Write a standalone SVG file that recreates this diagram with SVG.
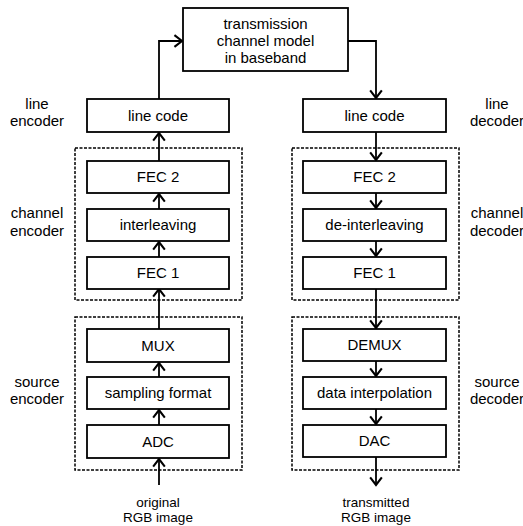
<svg xmlns="http://www.w3.org/2000/svg" width="523" height="526" viewBox="0 0 523 526">
<defs>
<style>
.box{fill:#fff;stroke:#000;stroke-width:1.8}
.grp{fill:none;stroke:#000;stroke-width:1.5;stroke-dasharray:3 1.5}
.t{font-family:"Liberation Sans",Arial,sans-serif;font-size:15px;fill:#000;text-anchor:middle}
.s{font-size:13.5px}
.c{fill:none;stroke:#000;stroke-width:1.8}
</style>
<marker id="ah" markerUnits="userSpaceOnUse" markerWidth="14" markerHeight="14" viewBox="-8 -6 10 12" refX="0" refY="0" orient="auto">
<path d="M-6.5,-5 L0,0 L-6.5,5" fill="none" stroke="#000" stroke-width="1.8"/>
</marker>
</defs>
<rect width="523" height="526" fill="#fff"/>
<g id="groups">
<rect id="channel-encoder-group" class="grp" x="75" y="148" width="167" height="152"/>
<rect id="source-encoder-group" class="grp" x="75" y="317" width="167" height="153"/>
<rect id="channel-decoder-group" class="grp" x="292" y="148" width="167" height="152"/>
<rect id="source-decoder-group" class="grp" x="292" y="317" width="167" height="153"/>
</g>
<g id="connectors">
<path class="c" d="M159,99 V41 H182" marker-end="url(#ah)"/>
<path class="c" d="M348,41 H376 V98" marker-end="url(#ah)"/>
<path class="c" d="M159,161 V133" marker-end="url(#ah)"/>
<path class="c" d="M159,209 V194" marker-end="url(#ah)"/>
<path class="c" d="M159,257 V242" marker-end="url(#ah)"/>
<path class="c" d="M159,329 V289" marker-end="url(#ah)"/>
<path class="c" d="M159,377 V363" marker-end="url(#ah)"/>
<path class="c" d="M159,425 V410" marker-end="url(#ah)"/>
<path class="c" d="M159,485 V459" marker-end="url(#ah)"/>
<path class="c" d="M376,132 V160" marker-end="url(#ah)"/>
<path class="c" d="M376,193 V208" marker-end="url(#ah)"/>
<path class="c" d="M376,241 V256" marker-end="url(#ah)"/>
<path class="c" d="M376,289 V328" marker-end="url(#ah)"/>
<path class="c" d="M376,361 V376" marker-end="url(#ah)"/>
<path class="c" d="M376,409 V424" marker-end="url(#ah)"/>
<path class="c" d="M376,457 V485" marker-end="url(#ah)"/>
</g>
<g id="channel-model"><rect class="box" x="183" y="8" width="165" height="63"/>
<text class="t" x="265.5" y="29">transmission</text><text class="t" x="265.5" y="46">channel model</text><text class="t" x="265.5" y="63">in baseband</text></g>
<g id="enc-line-code"><rect class="box" x="87" y="99" width="142" height="33"/><text class="t" x="158" y="121">line code</text></g>
<g id="enc-fec2"><rect class="box" x="87" y="161" width="142" height="32"/><text class="t" x="158" y="182">FEC 2</text></g>
<g id="enc-interleaving"><rect class="box" x="87" y="209" width="142" height="32"/><text class="t" x="158" y="230">interleaving</text></g>
<g id="enc-fec1"><rect class="box" x="87" y="257" width="142" height="32"/><text class="t" x="158" y="278">FEC 1</text></g>
<g id="enc-mux"><rect class="box" x="87" y="329" width="142" height="33"/><text class="t" x="158" y="351">MUX</text></g>
<g id="enc-sampling"><rect class="box" x="87" y="377" width="142" height="32"/><text class="t" x="158" y="398">sampling format</text></g>
<g id="enc-adc"><rect class="box" x="87" y="425" width="142" height="33"/><text class="t" x="158" y="447">ADC</text></g>
<g id="dec-line-code"><rect class="box" x="303" y="99" width="143" height="33"/><text class="t" x="374.5" y="121">line code</text></g>
<g id="dec-fec2"><rect class="box" x="303" y="161" width="143" height="32"/><text class="t" x="374.5" y="182">FEC 2</text></g>
<g id="dec-deinterleaving"><rect class="box" x="303" y="209" width="143" height="32"/><text class="t" x="374.5" y="230">de-interleaving</text></g>
<g id="dec-fec1"><rect class="box" x="303" y="257" width="143" height="32"/><text class="t" x="374.5" y="278">FEC 1</text></g>
<g id="dec-demux"><rect class="box" x="303" y="329" width="143" height="32"/><text class="t" x="374.5" y="350">DEMUX</text></g>
<g id="dec-interpolation"><rect class="box" x="303" y="377" width="143" height="32"/><text class="t" x="374.5" y="398">data interpolation</text></g>
<g id="dec-dac"><rect class="box" x="303" y="425" width="143" height="32"/><text class="t" x="374.5" y="446">DAC</text></g>
<g id="labels">
<text class="t" x="37" y="109">line</text><text class="t" x="37" y="126">encoder</text>
<text class="t" x="37" y="218">channel</text><text class="t" x="37" y="236">encoder</text>
<text class="t" x="37" y="387">source</text><text class="t" x="37" y="404">encoder</text>
<text class="t" x="497" y="109">line</text><text class="t" x="497" y="126">decoder</text>
<text class="t" x="497" y="218">channel</text><text class="t" x="497" y="236">decoder</text>
<text class="t" x="497" y="387">source</text><text class="t" x="497" y="404">decoder</text>
<text class="t s" x="158" y="507">original</text><text class="t s" x="158" y="521.5">RGB image</text>
<text class="t s" x="376" y="507">transmitted</text><text class="t s" x="376" y="521.5">RGB image</text>
</g>
</svg>
